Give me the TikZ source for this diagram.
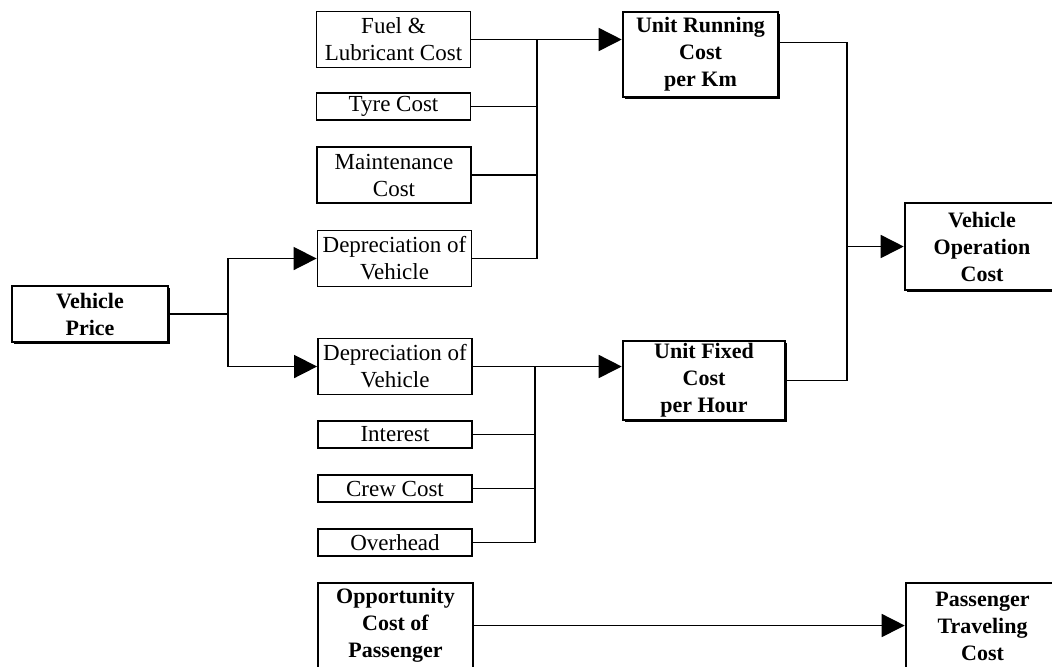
\documentclass[tikz,border=0pt]{standalone}
\usepackage{fontspec}
\setmainfont{Liberation Serif}
\usetikzlibrary{arrows.meta,shadows}

\tikzset{
  box/.style={draw, fill=white, line width=0.9pt, align=center, inner sep=1pt,
    minimum width=77pt, font=\fontsize{11.5}{13.5}\selectfont},
  onerow/.style={box, minimum height=13.5pt},
  tworow/.style={box, minimum height=28pt},
  keybox/.style={box, line width=1.3pt, font=\fontsize{11}{13.5}\selectfont\bfseries,
    drop shadow={shadow xshift=1.2pt, shadow yshift=-1.2pt, fill=black, opacity=1}},
  arr/.style={-{Triangle[length=11.5pt,width=11.5pt]}},
}

\begin{document}
\begin{tikzpicture}[x=0.5pt, y=-0.5pt, line width=0.8pt]
\useasboundingbox (0,0) rectangle (1052,666);
\clip (0,0) rectangle (1052,666);

% Vehicle price
\node[keybox, minimum width=78pt, minimum height=28pt] (price) at (90,314) {Vehicle\\Price};
\coordinate (fork) at (228,314);

% Running cost items
\node[tworow] (fuel) at (393.5,39.5) {Fuel \&\\Lubricant Cost};
\node[onerow] (tyre) at (393.5,106.5) {Tyre Cost};
\node[tworow] (maint) at (394,175) {Maintenance\\Cost};
\node[tworow] (dep1) at (394.5,258.5) {Depreciation of\\Vehicle};
\coordinate (jrun) at (537,0);

% Fixed cost items
\node[tworow] (dep2) at (395,366.5) {Depreciation of\\Vehicle};
\node[onerow] (interest) at (395,434.5) {Interest};
\node[onerow] (crew) at (395,488.5) {Crew Cost};
\node[onerow] (overhead) at (395,542.5) {Overhead};
\coordinate (jfix) at (535,0);

% Unit costs
\node[keybox, minimum width=77.5pt, minimum height=42.5pt] (running) at (700.5,54.5) {Unit Running\\Cost\\per Km};
\node[keybox, minimum width=81pt, minimum height=39.5pt] (fixed) at (704,380.5) {Unit Fixed\\Cost\\per Hour};
\coordinate (jop) at (847,0);

% Totals
\node[keybox, minimum width=77pt, minimum height=43.5pt] (vop) at (982,246.5) {Vehicle\\Operation\\Cost};

% Passenger
\node[box, line width=1.1pt, font=\fontsize{11}{13.5}\selectfont\bfseries,
  minimum width=77.5pt, minimum height=42.5pt] (opp) at (395.5,625.5) {Opportunity\\Cost of\\Passenger};
\node[box, line width=1.3pt, font=\fontsize{11}{13.5}\selectfont\bfseries,
  minimum width=76.5pt, minimum height=43.5pt] (pass) at (982.5,626.5) {Passenger\\Traveling\\Cost};

% Connectors
\draw (price.east) -- (fork);
\draw[arr] (fork) |- (dep1.west);
\draw[arr] (fork) |- (dep2.west);

\draw[arr] (fuel.east) -- (fuel.east -| running.west);
\draw (tyre.east) -- (tyre.east -| jrun);
\draw (maint.east) -- (maint.east -| jrun);
\draw (dep1.east) -| (jrun |- fuel.east);

\draw[arr] (dep2.east) -- (dep2.east -| fixed.west);
\draw (interest.east) -- (interest.east -| jfix);
\draw (crew.east) -- (crew.east -| jfix);
\draw (overhead.east) -| (jfix |- dep2.east);

\draw ([yshift=6pt]running.east) -| (jop |- fixed.east) -- (fixed.east);
\draw[arr] (jop |- vop.west) -- (vop.west);

\draw[arr] (opp.east) -- (opp.east -| pass.west);
\end{tikzpicture}
\end{document}
